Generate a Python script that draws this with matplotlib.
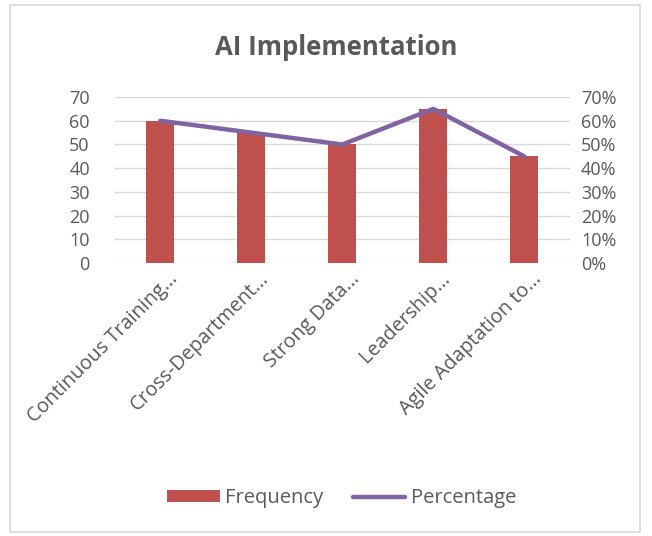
import numpy as np
import matplotlib.pyplot as plt
import matplotlib.transforms as mtransforms
from matplotlib.patches import Rectangle

categories = ["Continuous Training...", "Cross-Department...", "Strong Data...",
              "Leadership...", "Agile Adaptation to..."]
frequency = [60, 55, 50, 65, 45]
percentage = [60, 55, 50, 65, 45]  # percent

plt.rcParams['font.family'] = ['Open Sans', 'DejaVu Sans']
text_col = '#595959'

fig = plt.figure(figsize=(6.52, 5.36), dpi=100)
ax = fig.add_axes([0.176, 0.509, 0.698, 0.310])
ax2 = ax.twinx()

x = np.arange(len(categories))
bars = ax.bar(x, frequency, width=0.31, color='#c0504d', zorder=2, label='Frequency')
line, = ax2.plot(x, np.array(percentage) / 100, color='#8064a2', lw=3.2,
                 solid_capstyle='round', zorder=3, label='Percentage')

ax.set_xlim(-0.5, len(categories) - 0.5)
ax.set_ylim(0, 70)
ax.set_yticks(range(0, 71, 10))
ax2.set_ylim(0, 0.7)
ax2.set_yticks(np.arange(0, 0.71, 0.1))
ax2.set_yticklabels([f"{int(round(v * 100))}%" for v in np.arange(0, 0.71, 0.1)])

ax.yaxis.grid(True, color='#d9d9d9', lw=1, zorder=0)
ax.set_axisbelow(True)
for a in (ax, ax2):
    for s in a.spines.values():
        s.set_visible(False)
    a.tick_params(length=0, labelsize=13, labelcolor=text_col)
ax.tick_params(axis='y', pad=18)
ax2.tick_params(axis='y', pad=8)
ax2.set_zorder(ax.get_zorder() + 1)
ax2.patch.set_visible(False)

ax.set_xticks(x)
ax.set_xticklabels(categories, rotation=45, ha='right', rotation_mode='anchor',
                   fontsize=14.3)
ax.tick_params(axis='x', pad=4)
# nudge the slanted labels a little to the right
shift = mtransforms.ScaledTranslation(7 / 100, 0, fig.dpi_scale_trans)
for lbl in ax.get_xticklabels():
    lbl.set_transform(lbl.get_transform() + shift)

fig.text(0.516, 0.912, "AI Implementation", ha='center', va='center',
         fontsize=18.5, fontweight='bold', color=text_col)

fig.legend([bars, line], ['Frequency', 'Percentage'], loc='center',
           bbox_to_anchor=(0.524, 0.07), ncol=2, frameon=False,
           fontsize=14.5, labelcolor=text_col, handlelength=2.6, columnspacing=1.5,
           handletextpad=0.25, handleheight=0.55)

# outer chart border
fig.patches.append(Rectangle((0.016, 0.008), 0.966, 0.982, transform=fig.transFigure,
                             fill=False, edgecolor='#d9d9d9', lw=1.2))

fig.savefig('out.png', dpi=100)
